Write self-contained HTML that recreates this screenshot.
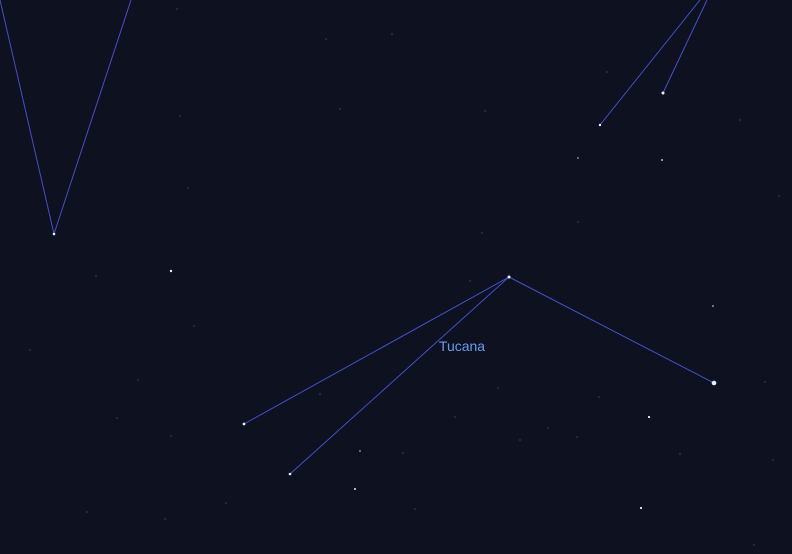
<!DOCTYPE html>
<html><head><meta charset="utf-8"><style>
html,body{margin:0;padding:0;background:#0d1120;}
svg{display:block}
</style></head><body>
<svg id="sky" width="792" height="554" viewBox="0 0 792 554" xmlns="http://www.w3.org/2000/svg">
<rect width="792" height="554" fill="#0d1120"/>
<g id="lines"></g><g id="stars"></g>
<text x="462" y="351" text-anchor="middle" fill="#6a9cf0" font-family="Liberation Sans, sans-serif" font-size="14">Tucana</text>
</svg>
<script>
const lineSegs = [[0,0,54,234],[54,234,131,0],[600,125,700,0],[663,93,707,0],[509,277,244,424],[509,277,290,474],[509,277,714,383]];
const brightStars = [[54,234,1.3],[600,125,1.2],[663,93,1.5],[509,277,1.5],[244,424,1.4],[290,474,1.3],[714,383,2.3],[171,271,1.2],[649,417,1.1],[641,508,1.1],[355,489,1.0],[662,160,0.9],[578,158,0.7],[360,451,0.7],[713,306,0.8]];
const faintStars = [[177,9],[326,39],[392,34],[340,109],[485,111],[607,72],[180,116],[188,188],[482,233],[578,222],[779,196],[96,276],[194,326],[138,380],[117,418],[171,436],[226,503],[455,417],[498,388],[403,453],[548,428],[577,437],[599,397],[765,382],[773,460],[754,545],[470,281],[320,394],[520,440],[87,512],[165,519],[415,509],[680,454],[30,350],[740,120]];
const svgNS="http://www.w3.org/2000/svg";
const lg=document.getElementById('lines'), sg=document.getElementById('stars');
lineSegs.forEach(s=>{const l=document.createElementNS(svgNS,'line');
l.setAttribute('x1',s[0]);l.setAttribute('y1',s[1]);l.setAttribute('x2',s[2]);l.setAttribute('y2',s[3]);
l.setAttribute('stroke','#4450c8');l.setAttribute('stroke-width','1');


lg.appendChild(l);});
brightStars.forEach(s=>{const c=document.createElementNS(svgNS,'circle');
c.setAttribute('cx',s[0]);c.setAttribute('cy',s[1]);c.setAttribute('r',s[2]);c.setAttribute('fill','#e8ecff');


sg.appendChild(c);});
faintStars.forEach(s=>{const c=document.createElementNS(svgNS,'circle');
c.setAttribute('cx',s[0]);c.setAttribute('cy',s[1]);c.setAttribute('r',0.6);c.setAttribute('fill','#5a6078');


sg.appendChild(c);});
</script>
</body></html>
